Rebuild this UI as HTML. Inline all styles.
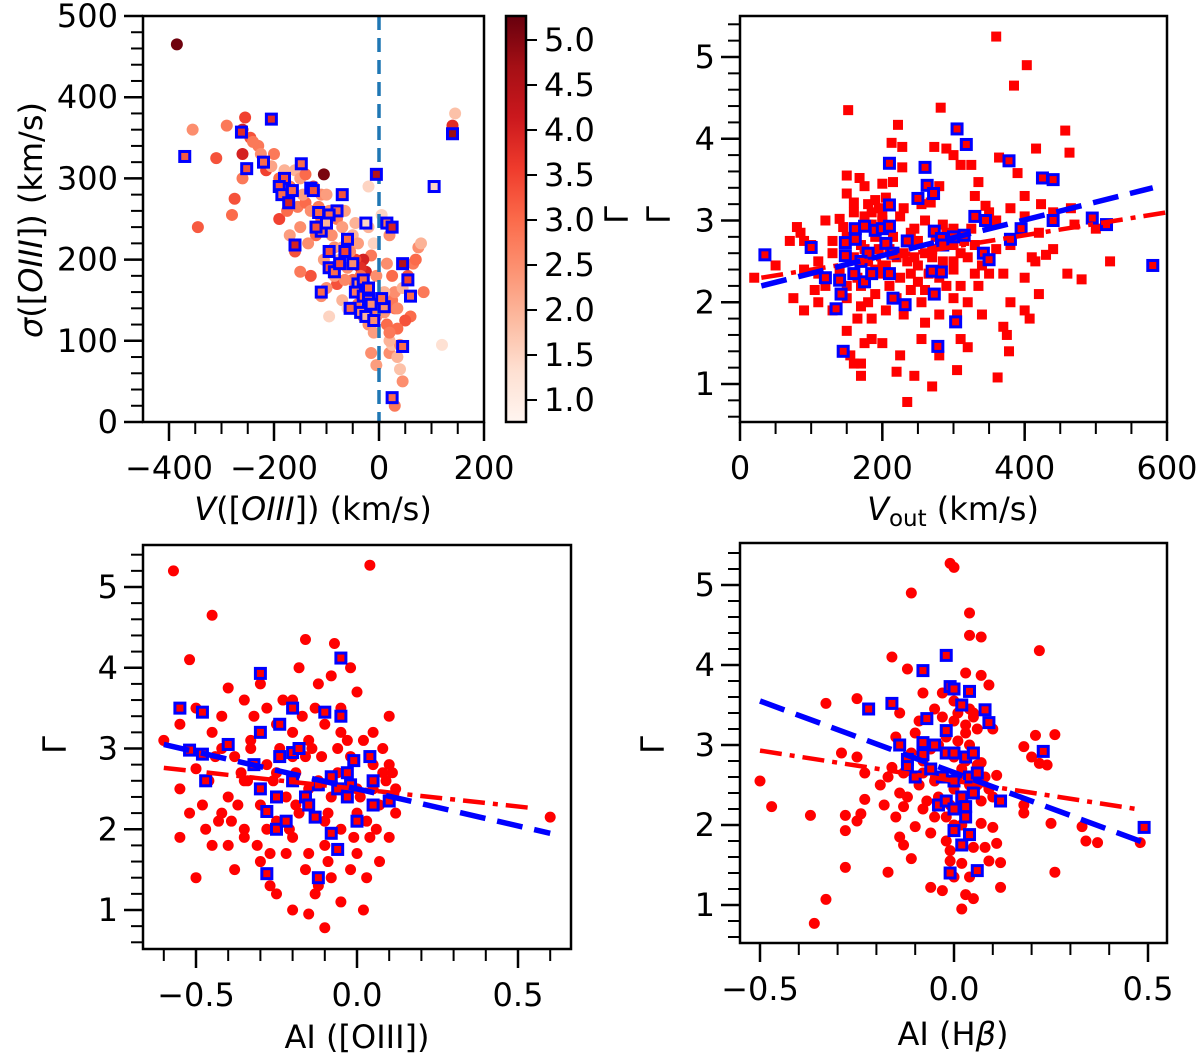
<!DOCTYPE html>
<html><head><meta charset="utf-8">
<style>
html,body{margin:0;padding:0;background:#fff;}
svg{display:block;font-family:"DejaVu Sans","Liberation Sans",sans-serif;}
</style></head>
<body>
<svg id="fig" width="1200" height="1061" viewBox="0 0 1200 1061" xmlns="http://www.w3.org/2000/svg">
<defs>
<linearGradient id="reds" x1="0" y1="1" x2="0" y2="0">
<stop offset="0" stop-color="#fff5f0"/><stop offset="0.125" stop-color="#fee0d2"/><stop offset="0.25" stop-color="#fcbba1"/><stop offset="0.375" stop-color="#fc9272"/><stop offset="0.5" stop-color="#fb6a4a"/><stop offset="0.625" stop-color="#ef3b2c"/><stop offset="0.75" stop-color="#cb181d"/><stop offset="0.875" stop-color="#a50f15"/><stop offset="1" stop-color="#67000d"/>
</linearGradient>
</defs>
</svg>
<script>
// ---- Panel 1 data: V([OIII]), sigma, Gamma(colour)
const p1RedV=[-385,-105,145,140,120,-355,-290,-255,-260,-245,-260,-310,-345,-230,-220,-215,-200,-190,-180,-160,-150,-140,-125,-110,-100,-260,-280,-275,-190,-175,-170,-155,-150,-140,-130,-110,-100,-90,-80,-70,-60,-50,-40,-120,-135,-160,-105,-90,-75,-60,-50,-40,-30,-20,-25,-15,-10,-20,-30,-80,-70,-60,-40,-30,-20,-10,-5,-110,-130,-150,-95,-15,-5,20,25,35,40,45,30,40,15,25,30,45,55,65,70,75,80,85,60,50,20,10,15,20,25,5,15,-20,30,35,-100,-85,-65,-45,-35,-5,-240,-225,-205,-170,-145,-115,-95,-70,-55,-35,-25,-12,-45,-65,-85,10,20,35];
const p1RedS=[465,305,380,365,95,360,365,375,360,350,330,325,240,340,320,310,330,300,310,310,300,305,290,280,280,300,255,275,250,260,230,265,240,270,260,250,240,230,250,240,225,230,220,230,220,210,200,190,200,190,175,170,165,160,185,205,220,240,200,170,150,140,145,130,120,110,130,155,180,185,130,85,70,85,95,80,65,50,20,95,120,150,160,165,180,195,200,215,220,160,130,125,100,160,195,230,180,255,245,290,140,115,165,215,260,200,190,180,345,330,315,290,280,265,260,215,210,180,150,140,245,175,180,135,110,140];
const p1RedC=[5.2,5.1,1.8,3.8,1.3,2.5,2.8,3.5,4.0,3.3,4.0,3.3,3.2,2.8,2.5,3.5,2.8,3.0,2.0,2.0,2.3,3.0,3.3,2.5,2.3,2.8,3.0,3.3,3.5,3.0,2.3,2.8,2.5,3.0,2.5,3.0,2.0,2.5,2.8,2.3,2.5,2.0,2.3,3.0,2.5,3.3,2.3,3.5,2.0,2.5,3.0,2.5,2.3,3.0,4.0,2.8,1.5,2.0,4.0,3.3,2.0,1.5,3.0,2.5,2.5,2.3,2.5,2.5,3.3,2.8,1.5,2.5,2.3,2.5,1.8,2.0,1.8,2.5,2.8,2.5,3.0,2.8,2.5,2.0,3.3,2.8,3.0,2.5,2.0,2.8,3.0,3.3,2.0,2.0,2.5,2.5,3.0,1.5,1.5,1.5,2.8,3.0,2.5,2.5,2.3,3.5,3.8,2.5,2.8,2.5,2.2,2.8,2.3,2.8,2.5,2.2,2.6,3.0,2.4,2.8,2.0,2.6,2.3,2.4,2.8,2.6];
const p1BlueV=[-370,-262,-205,-252,-220,-180,-148,-165,-190,-185,-172,-160,-130,-125,-115,-110,-120,-70,-80,-95,-100,-60,-65,-95,-95,-85,-75,-50,-110,-40,-30,-45,-30,-20,-15,-35,-25,-10,-55,-20,-5,15,25,10,5,45,55,60,105,140,25,45,-25];
const p1BlueS=[327,357,373,312,320,300,318,285,290,280,270,218,288,285,258,235,240,280,260,255,245,225,210,210,190,185,195,195,160,170,175,160,155,150,145,135,130,125,140,165,305,245,240,142,152,195,175,155,290,355,30,93,245];
const p1BlueC=[3.2,3.8,3.8,3.3,3.0,3.3,3.0,3.0,3.3,3.0,4.0,4.0,3.0,3.3,3.0,3.0,3.3,3.3,3.0,3.0,2.0,3.0,3.5,3.3,3.3,3.0,3.3,2.5,3.0,2.5,3.0,2.8,3.0,3.0,2.5,2.5,2.0,2.5,3.0,3.0,4.5,2.8,4.0,2.5,3.0,4.5,3.5,3.0,1.5,4.8,3.0,3.0,1.5];
const p1XTicks=[-400,-200,0,200];
const p1YTicks=[0,100,200,300,400,500];
const cbTicks=[1.0,1.5,2.0,2.5,3.0,3.5,4.0,4.5,5.0];

// ---- Panel 2 data: Vout, Gamma
const p2RedX=[360,403,385,152,282,222,457,213,228,273,290,300,310,325,228,364,416,463,390,150,168,175,200,215,280,335,150,190,205,180,160,230,255,268,330,345,400,440,423,380,120,140,145,185,200,225,260,285,300,350,360,400,465,470,80,85,90,70,100,130,150,170,190,240,250,300,315,330,360,380,420,440,500,110,130,160,180,210,220,250,270,300,320,340,410,430,50,90,110,140,165,200,240,280,300,330,350,370,400,415,460,520,20,105,120,170,190,210,240,260,310,335,75,110,150,180,220,255,300,320,380,420,480,90,130,165,185,205,230,260,280,305,340,400,407,150,185,200,175,255,280,310,320,375,370,378,155,160,170,225,220,245,170,270,305,235,362,200,230,270,150,195,160,175,185,195,215,245,260,275,290,310,325,175,190,235,250,265,285,170,205,225,245,290,160,180,200];
const p2RedY=[5.25,4.9,4.65,4.35,4.38,4.17,4.1,3.95,3.9,3.9,3.88,3.8,3.68,3.68,3.65,3.77,3.88,3.83,3.58,3.55,3.52,3.42,3.45,3.47,3.42,3.47,3.33,3.25,3.28,3.2,3.22,3.15,3.2,3.22,3.3,3.18,3.3,3.1,3.2,3.15,3.0,3.02,2.92,3.1,3.0,3.05,3.0,2.95,2.9,3.1,3.0,3.05,3.15,2.95,2.92,2.85,2.75,2.75,2.7,2.75,2.8,2.7,2.8,2.85,2.75,2.7,2.75,2.7,2.65,2.7,2.85,2.65,2.9,2.5,2.6,2.55,2.5,2.65,2.55,2.45,2.55,2.5,2.55,2.45,2.55,2.58,2.45,2.4,2.35,2.4,2.3,2.35,2.35,2.3,2.4,2.35,2.35,2.35,2.3,2.5,2.35,2.5,2.3,2.15,2.2,2.2,2.1,2.2,2.15,2.15,2.2,2.2,2.05,2.0,2.05,2.0,2.05,2.0,2.05,2.0,2.0,2.1,2.28,1.9,1.9,1.8,1.8,1.9,1.85,1.75,1.85,1.85,1.85,1.9,1.8,1.65,1.55,1.5,1.5,1.55,1.35,1.55,1.45,1.6,1.7,1.4,1.35,1.25,1.25,1.35,1.15,1.1,1.1,0.97,1.17,0.78,1.08,2.45,2.6,2.65,2.2,2.65,3.1,3.05,2.95,3.15,2.8,2.9,2.6,2.8,2.85,2.6,2.9,2.65,2.4,2.5,2.25,2.35,2.5,1.95,2.45,2.3,2.55,2.2,2.9,2.95,3.05];
const p2BlueX=[35,100,120,142,135,145,140,148,148,162,162,175,190,200,210,205,215,180,170,160,175,185,210,215,232,210,210,250,260,263,272,273,235,283,285,270,283,273,278,303,305,318,300,315,330,345,342,350,378,380,395,425,440,440,495,515,580];
const p2BlueY=[2.58,2.67,2.3,2.1,1.92,1.4,2.27,2.57,2.73,2.77,2.9,2.93,2.88,2.9,2.93,2.72,2.6,2.6,2.5,2.35,2.25,2.35,2.35,2.05,1.97,3.19,3.7,3.27,3.65,3.43,3.33,2.87,2.75,2.78,2.7,2.38,2.37,2.1,1.46,1.76,4.12,3.93,2.8,2.82,3.05,3.0,2.6,2.52,3.73,2.77,2.9,3.52,3.5,3.0,3.03,2.95,2.45];
const p2FitX=[30,580];const p2BlueFit=[2.2,3.4];
const p2RedFitX=[30,600];const p2RedFit=[2.3,3.1];
const p2XTicks=[0,200,400,600];
const gTicks=[1,2,3,4,5];

// ---- Panel 3 data: AI([OIII]), Gamma
const p3RedX=[-0.57,-0.45,-0.52,0.04,-0.07,-0.16,-0.4,-0.35,-0.5,-0.55,-0.6,-0.45,-0.42,-0.38,-0.5,-0.55,-0.48,-0.42,-0.35,-0.45,-0.55,-0.5,-0.4,-0.38,-0.3,-0.25,-0.2,-0.15,-0.1,-0.05,0.02,-0.12,-0.3,-0.25,-0.2,-0.15,-0.1,-0.05,0.0,-0.02,-0.08,-0.25,-0.3,-0.2,-0.12,0.05,0.08,0.1,0.05,0.0,-0.05,-0.1,-0.15,-0.2,-0.25,-0.3,-0.35,-0.28,-0.22,-0.18,-0.12,-0.08,-0.02,0.02,0.1,0.12,0.1,0.07,0.03,-0.02,0.0,-0.06,-0.16,-0.33,-0.28,-0.22,-0.16,-0.08,-0.35,-0.4,-0.46,-0.2,-0.15,-0.1,0.0,0.05,-0.05,0.03,0.07,-0.27,-0.32,-0.42,0.6,0.12,-0.13,-0.18,-0.24,-0.28,-0.36,-0.52,-0.44,-0.37,-0.33,-0.26,-0.19,-0.11,-0.04,0.01,0.06,0.09,-0.14,-0.09,-0.21,-0.31,-0.39,-0.47,-0.23,-0.17,-0.06,0.04,0.08,-0.01,-0.27,-0.13,-0.19,-0.09,-0.03,0.11,-0.43,-0.34];
const p3RedY=[5.2,4.65,4.1,5.27,4.3,4.35,3.75,3.6,3.5,3.3,3.1,3.2,3.0,2.9,2.75,2.5,2.3,2.2,2.0,1.8,1.9,1.4,1.8,1.5,1.6,1.2,1.0,0.95,0.78,1.1,1.0,1.3,2.5,2.7,2.9,3.1,3.3,3.5,3.7,4.0,3.9,3.3,3.8,3.6,3.8,3.2,3.0,2.8,2.5,2.2,2.0,1.8,1.7,1.9,2.1,2.3,2.6,2.8,2.4,2.2,2.6,2.4,2.9,3.1,3.4,2.2,1.9,1.6,1.4,1.5,1.7,2.7,2.9,3.1,2.0,1.7,1.5,1.4,1.9,2.4,2.6,3.2,2.5,2.1,2.5,2.8,3.2,2.1,2.3,1.7,3.4,3.4,2.15,2.5,3.5,4.0,3.0,3.5,2.7,2.2,2.9,2.3,3.0,2.6,2.7,2.9,2.7,2.4,2.0,2.6,3.0,2.2,2.0,1.8,2.1,2.0,3.6,3.4,3.0,1.9,2.7,1.9,1.3,1.2,2.3,1.6,3.1,2.7,2.1,2.6];
const p3BlueX=[-0.55,-0.48,-0.52,-0.48,-0.47,-0.4,-0.3,-0.3,-0.32,-0.3,-0.28,-0.25,-0.28,-0.22,-0.2,-0.24,-0.24,-0.2,-0.18,-0.2,-0.16,-0.15,-0.13,-0.12,-0.1,-0.05,-0.05,-0.08,-0.06,-0.08,-0.06,-0.03,-0.03,-0.01,0.0,0.04,0.05,0.05,0.1,-0.02,-0.12,-0.25];
const p3BlueY=[3.5,3.45,2.98,2.93,2.6,3.05,3.93,3.2,2.8,2.5,2.22,2.0,1.45,2.1,3.5,3.3,2.9,2.95,3.0,2.6,2.4,2.3,2.15,1.4,3.45,3.4,4.12,2.65,2.5,1.95,1.75,2.7,2.4,2.85,2.1,2.9,2.6,2.3,2.35,2.55,2.55,2.4];
const p3FitX=[-0.6,0.6];const p3BlueFit=[3.05,1.95];
const p3RedFitX=[-0.6,0.55];const p3RedFit=[2.76,2.26];
const aiTicks=[-0.5,0.0,0.5];

// ---- Panel 4 data: AI(Hbeta), Gamma
const p4RedX=[-0.01,0.0,-0.11,0.04,0.04,0.07,0.22,-0.16,-0.12,0.03,0.07,0.09,-0.08,-0.03,-0.25,-0.33,0.0,0.04,-0.14,-0.05,0.01,0.06,0.1,0.21,0.26,-0.15,-0.1,0.0,0.03,0.18,0.2,-0.29,-0.25,0.22,0.24,-0.23,-0.5,-0.47,-0.16,-0.08,0.07,0.11,-0.19,-0.14,-0.12,-0.05,0.0,0.05,0.1,0.18,-0.23,-0.18,-0.13,-0.28,-0.24,-0.37,-0.25,-0.15,-0.1,-0.06,0.0,0.07,0.1,0.18,0.25,0.33,0.34,0.37,0.48,-0.28,-0.14,-0.13,-0.11,-0.02,0.05,0.08,0.11,-0.01,0.02,-0.01,0.09,0.12,-0.28,-0.17,0.0,0.04,-0.06,-0.03,0.03,0.05,0.12,0.26,-0.33,-0.36,0.02,-0.17,-0.08,0.02,0.04,-0.04,0.02,0.06,-0.02,-0.07,0.0,0.05,-0.09,0.08,-0.11,-0.06,-0.02,0.01,0.03,0.06,0.09,-0.04,-0.09,-0.13,0.01,0.04,0.07,-0.05,-0.01,0.02,-0.08,0.05,0.03,-0.03];
const p4RedY=[5.27,5.22,4.9,4.65,4.37,4.35,4.18,4.1,3.95,3.9,3.87,3.75,3.65,3.65,3.58,3.52,3.55,3.45,3.4,3.45,3.4,3.2,3.2,3.12,3.13,3.1,3.15,3.3,3.15,2.98,2.85,2.9,2.85,2.77,2.75,2.65,2.55,2.23,2.72,2.8,2.78,2.62,2.5,2.4,2.35,2.55,2.45,2.4,2.35,2.25,2.32,2.25,2.23,2.12,2.14,2.12,2.05,2.1,1.98,1.9,2.0,2.02,1.97,2.15,2.02,1.98,1.8,1.78,1.78,1.93,1.85,1.75,1.58,1.8,1.72,1.72,1.77,1.68,1.52,1.55,1.55,1.53,1.47,1.41,1.35,1.35,1.22,1.18,1.13,1.08,1.22,1.41,1.07,0.77,0.95,2.6,2.65,2.7,3.0,3.0,2.2,2.5,2.1,2.3,2.85,3.35,3.3,2.6,2.9,2.95,3.1,3.05,3.25,2.75,2.45,2.35,2.5,2.65,2.6,2.5,2.3,2.1,2.25,2.0,2.2,3.4,2.8,3.35];
const p4BlueX=[-0.22,-0.16,-0.08,-0.02,-0.07,-0.02,-0.01,0.0,0.04,0.02,0.08,0.09,-0.14,-0.12,-0.12,-0.08,-0.05,-0.08,-0.02,0.0,0.03,0.05,-0.06,-0.03,0.0,0.04,0.06,-0.04,-0.02,0.0,0.02,0.05,0.03,0.0,0.04,0.02,-0.01,0.06,0.12,0.23,0.49,-0.1,0.03];
const p4BlueY=[3.45,3.52,3.93,4.12,3.33,3.18,3.73,3.7,3.67,3.5,3.44,3.28,3.0,2.82,2.73,3.03,3.0,2.88,2.9,2.9,2.85,2.9,2.7,2.6,2.55,2.6,2.65,2.25,2.3,2.2,2.35,2.4,2.1,1.93,1.88,1.75,1.4,1.43,2.3,2.92,1.97,2.6,2.23];
const p4FitX=[-0.5,0.49];const p4BlueFit=[3.55,1.78];
const p4RedFitX=[-0.5,0.47];const p4RedFit=[2.93,2.2];

const NS="http://www.w3.org/2000/svg";
const fig=document.getElementById('fig');
const FS=32;
function mk(tag,attrs,parent){const e=document.createElementNS(NS,tag);for(const k in attrs)e.setAttribute(k,attrs[k]);(parent||fig).appendChild(e);return e;}
function lin(d0,d1,p0,p1){return v=>p0+(v-d0)*(p1-p0)/(d1-d0);}

const stops=[[255,245,240],[254,224,210],[252,187,161],[252,146,114],[251,106,74],[239,59,44],[203,24,29],[165,15,21],[103,0,13]];
const cMin=0.756,cMax=5.27;
function red(c){let t=(c-cMin)/(cMax-cMin);t=Math.max(0,Math.min(1,t))*8;const i=Math.min(7,Math.floor(t)),f=t-i;const a=stops[i],b=stops[i+1];return 'rgb('+a.map((v,j)=>Math.round(v+(b[j]-v)*f)).join(',')+')';}

function axes(name,x0,x1,y0,y1,xs,ys,xMaj,xMin,yMaj,yMin,xFmt,yFmt,xLabY){
  const g=mk('g',{});
  
  
  const xMinV=Math.min(xs.inv(x0),xs.inv(x1)),xMaxV=Math.max(xs.inv(x0),xs.inv(x1));
  const yMinV=Math.min(ys.inv(y0),ys.inv(y1)),yMaxV=Math.max(ys.inv(y0),ys.inv(y1));
  for(const v of xMin){if(v<xMinV-1e-9||v>xMaxV+1e-9)continue;const px=xs(v);const t=mk('line',{x1:px,x2:px,y1:y1,y2:y1+12,stroke:'#000','stroke-width':2},g);}
  for(const v of xMaj){const px=xs(v);const t=mk('line',{x1:px,x2:px,y1:y1,y2:y1+19,stroke:'#000','stroke-width':2.5},g);
    const l=mk('text',{x:px,y:xLabY,'text-anchor':'middle','font-size':FS,fill:'#000'},g);l.textContent=xFmt(v);}
  for(const v of yMin){if(v<yMinV-1e-9||v>yMaxV+1e-9)continue;const py=ys(v);const t=mk('line',{x1:x0-12,x2:x0,y1:py,y2:py,stroke:'#000','stroke-width':2},g);}
  for(const v of yMaj){const py=ys(v);const t=mk('line',{x1:x0-19,x2:x0,y1:py,y2:py,stroke:'#000','stroke-width':2.5},g);
    const l=mk('text',{x:x0-25,y:py+11,'text-anchor':'end','font-size':FS,fill:'#000'},g);l.textContent=yFmt(v);}
  return g;
}
function frame(name,x0,x1,y0,y1){const r=mk('rect',{x:x0,y:y0,width:x1-x0,height:y1-y0,fill:'none',stroke:'#000','stroke-width':2.5});}
function scale(d0,d1,p0,p1){const f=lin(d0,d1,p0,p1);f.inv=lin(p0,p1,d0,d1);return f;}
function range(a,b,s){const o=[];for(let v=a;v<=b+1e-9;v+=s)o.push(Math.round(v*1000)/1000);return o;}
function circ(g,x,y,r,fill,name){const c=mk('circle',{cx:x,cy:y,r:r,fill:fill},g);}
function sq(g,x,y,s,fill,name){const c=mk('rect',{x:x-s/2,y:y-s/2,width:s,height:s,fill:fill},g);}
function bsq(g,x,y,fill,name){const c=mk('rect',{x:x-5,y:y-5,width:10,height:10,fill:fill,stroke:'#0000ff','stroke-width':3},g);}
function txt(s,x,y,size,rot,name,anchor){const t=mk('text',{x:x,y:y,'font-size':size,'text-anchor':anchor||'middle',fill:'#000'});if(rot)t.setAttribute('transform','rotate('+rot+' '+x+' '+y+')');t.innerHTML=s;return t;}
function fitLine(g,xs,ys,X,Y,color,dash,w,name){const l=mk('line',{x1:xs(X[0]),y1:ys(Y[0]),x2:xs(X[1]),y2:ys(Y[1]),stroke:color,'stroke-width':w,'stroke-dasharray':dash},g);}
const fmtInt=v=>(v<0?'\u2212':'')+Math.abs(v);
const fmt1=v=>(v<0?'\u2212':'')+Math.abs(v).toFixed(1);

// ===== Panel 1 =====
{
const X0=143,X1=484,Y0=16,Y1=422;
const xs=scale(-400,0,169,379), ys=scale(0,500,422,16);
const g=mk('g',{});


const cp=mk('clipPath',{id:'c1'});mk('rect',{x:X0,y:Y0,width:X1-X0,height:Y1-Y0},cp);g.setAttribute('clip-path','url(#c1)');
p1RedV.forEach((v,i)=>circ(g,xs(v),ys(p1RedS[i]),6,red(p1RedC[i]),'red-point'));
const dl=mk('line',{x1:xs(0),x2:xs(0),y1:Y0,y2:Y1,stroke:'#1f77b4','stroke-width':3.5,'stroke-dasharray':'14 8'},g);


p1BlueV.forEach((v,i)=>bsq(g,xs(v),ys(p1BlueS[i]),red(p1BlueC[i]),'blue-square-point'));
axes('panel1',X0,X1,Y0,Y1,xs,ys,p1XTicks,range(-450,200,50),p1YTicks,range(0,500,20),fmtInt,v=>''+v,479);
frame('panel1',X0,X1,Y0,Y1);
txt('<tspan font-style="italic">V</tspan>([<tspan font-style="italic">OIII</tspan>]) (km/s)',313,520,FS,0,'x-axis-title');
txt('<tspan font-style="italic">σ</tspan>([<tspan font-style="italic">OIII</tspan>]) (km/s)',42,220,FS,-90,'y-axis-title');
const cb=mk('rect',{x:506,y:16,width:20,height:406,fill:'url(#reds)',stroke:'#000','stroke-width':2.5});


const cs=scale(1,5,400,40);
cbTicks.forEach(v=>{const t=mk('line',{x1:526,x2:537,y1:cs(v),y2:cs(v),stroke:'#000','stroke-width':2});
  txt(v.toFixed(1),544,cs(v)+11,FS,0,'colorbar-tick-label','start');});
txt('Γ',628,215,FS,-90,'colorbar-title');
}

// ===== Panel 2 =====
{
const X0=740,X1=1167,Y0=16,Y1=422;
const xs=scale(0,600,740,1167), ys=scale(1,5,384,57);
const g=mk('g',{});


p2RedX.forEach((v,i)=>sq(g,xs(v),ys(p2RedY[i]),10,'#ff0000','red-square-point'));
p2BlueX.forEach((v,i)=>bsq(g,xs(v),ys(p2BlueY[i]),'#ff0000','blue-square-point'));
fitLine(g,xs,ys,p2RedFitX,p2RedFit,'#ff0000','22 8 5 8',4.5,'red-fit-line');
fitLine(g,xs,ys,p2FitX,p2BlueFit,'#0000ff','26 12',5.5,'blue-fit-line');
axes('panel2',X0,X1,Y0,Y1,xs,ys,p2XTicks,range(0,600,50),gTicks,range(0.6,5.4,0.2),v=>''+v,v=>''+v,479);
frame('panel2',X0,X1,Y0,Y1);
txt('<tspan font-style="italic">V</tspan><tspan font-size="23" dy="6">out</tspan><tspan dy="-6"> (km/s)</tspan>',953,520,FS,0,'x-axis-title');
txt('Γ',670,215,FS,-90,'y-axis-title');
}

// ===== Panel 3 =====
{
const X0=143,X1=571,Y0=545,Y1=949;
const xs=scale(-0.5,0.5,196,518), ys=scale(1,5,910,587);
const g=mk('g',{});


p3RedX.forEach((v,i)=>circ(g,xs(v),ys(p3RedY[i]),5.5,'#ff0000','red-point'));
p3BlueX.forEach((v,i)=>bsq(g,xs(v),ys(p3BlueY[i]),'#ff0000','blue-square-point'));
fitLine(g,xs,ys,p3RedFitX,p3RedFit,'#ff0000','22 8 5 8',4.5,'red-fit-line');
fitLine(g,xs,ys,p3FitX,p3BlueFit,'#0000ff','26 12',5.5,'blue-fit-line');
axes('panel3',X0,X1,Y0,Y1,xs,ys,aiTicks,range(-0.6,0.6,0.1),gTicks,range(0.6,5.4,0.2),fmt1,v=>''+v,1006);
frame('panel3',X0,X1,Y0,Y1);
txt('AI ([OIII])',357,1048,FS,0,'x-axis-title');
txt('Γ',66,745,FS,-90,'y-axis-title');
}

// ===== Panel 4 =====
{
const X0=740,X1=1167,Y0=543,Y1=943;
const xs=scale(-0.5,0.5,760,1148), ys=scale(1,5,905,585);
const g=mk('g',{});


p4RedX.forEach((v,i)=>circ(g,xs(v),ys(p4RedY[i]),5.5,'#ff0000','red-point'));
p4BlueX.forEach((v,i)=>bsq(g,xs(v),ys(p4BlueY[i]),'#ff0000','blue-square-point'));
fitLine(g,xs,ys,p4RedFitX,p4RedFit,'#ff0000','22 8 5 8',4.5,'red-fit-line');
fitLine(g,xs,ys,p4FitX,p4BlueFit,'#0000ff','26 12',5.5,'blue-fit-line');
axes('panel4',X0,X1,Y0,Y1,xs,ys,aiTicks,range(-0.5,0.5,0.1),gTicks,range(0.6,5.4,0.2),fmt1,v=>''+v,1000);
frame('panel4',X0,X1,Y0,Y1);
txt('AI (H<tspan font-style="italic">β</tspan>)',953,1045,FS,0,'x-axis-title');
txt('Γ',664,745,FS,-90,'y-axis-title');
}
</script>
</body></html>
